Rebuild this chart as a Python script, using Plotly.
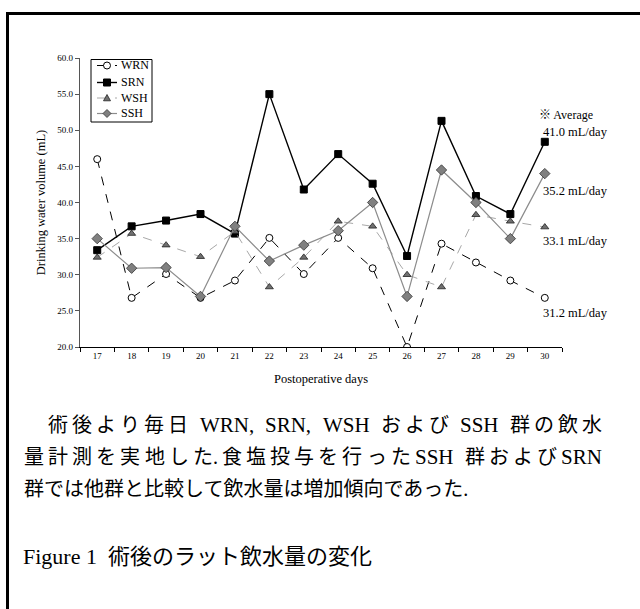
import plotly.graph_objects as go

# Postoperative day and daily drinking water volume (mL) per group
days = [17, 18, 19, 20, 21, 22, 23, 24, 25, 26, 27, 28, 29, 30]
wrn = [46.0, 26.8, 30.1, 26.8, 29.2, 35.1, 30.1, 35.1, 30.9, 20.0, 34.3, 31.7, 29.2, 26.8]
srn = [33.4, 36.7, 37.5, 38.4, 35.7, 55.0, 41.8, 46.7, 42.6, 32.6, 51.3, 40.9, 38.4, 48.4]
wsh = [32.4, 35.7, 34.1, 32.5, 36.0, 28.3, 32.4, 37.4, 36.7, 30.0, 28.3, 38.3, 37.4, 36.6]
ssh = [35.0, 30.9, 31.0, 27.0, 36.7, 31.9, 34.1, 36.1, 40.0, 27.0, 44.5, 40.0, 35.0, 44.0]

group_names = ["WRN", "SRN", "WSH", "SSH"]
avg_labels = ["41.0 mL/day", "35.2 mL/day", "33.1 mL/day", "31.2 mL/day"]
y_ticks = [20, 25, 30, 35, 40, 45, 50, 55, 60]

# Caption text, split into tokens so the first two lines can be justified
caption_line1 = ["術", "後", "よ", "り", "毎", "日", " ", "WRN,", " ", "SRN,", " ", "WSH", " ",
                 "お", "よ", "び", " ", "SSH", " ", "群", "の", "飲", "水"]
caption_line2 = ["量", "計", "測", "を", "実", "地", "し", "た.", "食", "塩", "投", "与", "を",
                 "行", "っ", "た", "SSH", " ", "群", "お", "よ", "び", "SRN"]
caption_line3 = "群では他群と比較して飲水量は増加傾向であった."
figure_title = "Figure 1  術後のラット飲水量の変化"

W, H = 640, 609
L, R, T, B = 80, 562, 58, 347  # plot area in pixels

SERIF = "Liberation Serif"
JP = "Liberation Serif, Noto Sans CJK JP"
BODY = 20        # CJK caption size
BODY_LATIN = 21  # Latin words inside the caption

# Approximate Times/Liberation Serif advance widths (em)
LATIN_W = {"W": 0.944, "R": 0.667, "N": 0.722, "S": 0.556, "H": 0.722,
           ",": 0.25, ".": 0.25, " ": 0.25}


def is_latin(tok):
    return all(ord(ch) < 0x2000 for ch in tok)


def tok_size(tok):
    return BODY_LATIN if is_latin(tok) else BODY


def text_width(s):
    size = tok_size(s)
    w = 0.0
    for ch in s:
        w += LATIN_W.get(ch, 1.0 if ord(ch) > 0x2000 else 0.5)
    return w * size


def px_x(p):
    return (p - L) / (R - L)


def px_y(p):
    return 1 - (p - T) / (B - T)


styles = {
    "WRN": dict(line=dict(color="black", width=1, dash="dash"),
                marker=dict(symbol="circle", size=7, color="white", line=dict(color="black", width=1))),
    "SRN": dict(line=dict(color="black", width=1.4),
                marker=dict(symbol="square", size=7, color="black", line=dict(color="black", width=1))),
    "WSH": dict(line=dict(color="#a8a8a8", width=1, dash="dash"),
                marker=dict(symbol="triangle-up", size=7, color="#707070", line=dict(color="#222222", width=0.8))),
    "SSH": dict(line=dict(color="#8c8c8c", width=1.2),
                marker=dict(symbol="diamond", size=8, color="#808080", line=dict(color="#333333", width=0.8))),
}

x = [str(d) for d in days]
fig = go.Figure()
for name, values in zip(group_names, [wrn, srn, wsh, ssh]):
    fig.add_trace(go.Scatter(x=x, y=values, name=name, mode="lines+markers",
                             showlegend=False, **styles[name]))

fig.update_layout(
    width=W, height=H,
    margin=dict(l=L, r=W - R, t=T, b=H - B),
    paper_bgcolor="white", plot_bgcolor="white",
    font=dict(family=SERIF, color="black"),
)

fig.update_xaxes(
    type="category", tickson="boundaries",
    ticks="outside", ticklen=4, tickcolor="black",
    showline=True, linecolor="black", linewidth=1.2,
    showgrid=False, zeroline=False,
    tickfont=dict(family=SERIF, size=9, color="black"),
    title=dict(text="Postoperative days", font=dict(family=SERIF, size=12.5, color="black"), standoff=14),
    range=[-0.5, len(days) - 0.5],
)
fig.update_yaxes(
    range=[20, 60], tickvals=y_ticks, ticktext=[f"{v:.1f}" for v in y_ticks],
    ticks="outside", ticklen=4, tickcolor="#555555",
    showline=True, linecolor="#555555", linewidth=1.2,
    showgrid=False, zeroline=False,
    tickfont=dict(family=SERIF, size=9, color="black"),
    title=dict(text="Drinking water volume (mL)", font=dict(family=SERIF, size=12.5, color="black"), standoff=8),
)

# Boxed legend in the upper-left corner of the plot
shapes = []
shapes.append(dict(type="rect", xref="paper", yref="paper",
                   x0=px_x(91), x1=px_x(152), y0=px_y(59.5), y1=px_y(122),
                   line=dict(color="black", width=1), fillcolor="white", layer="above"))
legend_rows = [65.5, 82.5, 98, 113.5]
sx0, sx1, mx = 97, 117, 107
for name, py in zip(group_names, legend_rows):
    st = styles[name]
    shapes.append(dict(type="line", xref="paper", yref="paper", layer="above",
                       x0=px_x(sx0), x1=px_x(sx1), y0=px_y(py), y1=px_y(py),
                       line=dict(color=st["line"]["color"], width=st["line"]["width"],
                                 dash="dash" if st["line"].get("dash") else "solid")))
    mk = st["marker"]
    r = mk["size"] / 2
    common = dict(xref="paper", yref="paper", layer="above", fillcolor=mk["color"],
                  line=dict(color=mk["line"]["color"], width=mk["line"]["width"]))
    if mk["symbol"] == "circle":
        shapes.append(dict(type="circle", x0=px_x(mx - r), x1=px_x(mx + r),
                           y0=px_y(py - r), y1=px_y(py + r), **common))
    elif mk["symbol"] == "square":
        shapes.append(dict(type="rect", x0=px_x(mx - r), x1=px_x(mx + r),
                           y0=px_y(py - r), y1=px_y(py + r), **common))
    else:
        if mk["symbol"] == "triangle-up":
            pts = [(mx, py - r), (mx + r, py + r * 0.8), (mx - r, py + r * 0.8)]
        else:
            pts = [(mx, py - r), (mx + r, py), (mx, py + r), (mx - r, py)]
        path = "M " + " L ".join(f"{px_x(a):.5f},{px_y(b):.5f}" for a, b in pts) + " Z"
        shapes.append(dict(type="path", path=path, **common))
    fig.add_annotation(text=name, x=px_x(119), y=px_y(py), xref="paper", yref="paper",
                       xanchor="left", yanchor="middle", showarrow=False,
                       font=dict(family=SERIF, size=12, color="black"))

# Average labels to the right of the last day
fig.add_annotation(text="※ Average", x=px_x(537), y=px_y(115), xref="paper", yref="paper",
                   xanchor="left", yanchor="middle", showarrow=False,
                   font=dict(family=JP, size=12, color="black"))
for lbl, py in zip(avg_labels, [131.5, 191, 241, 313]):
    fig.add_annotation(text=lbl, x=px_x(541), y=px_y(py), xref="paper", yref="paper",
                       xanchor="left", yanchor="middle", showarrow=False,
                       font=dict(family=SERIF, size=12.5, color="black"))


def add_justified(tokens, x0, x1, py, space_weight=1.5):
    """Spread tokens across [x0, x1] px; word spaces take a larger share of the slack."""
    natural = sum(text_width(t) for t in tokens if t != " ") + \
        sum(0.25 * BODY_LATIN for t in tokens if t == " ")
    weights = []
    prev_space = False
    for i, t in enumerate(tokens):
        if t == " ":
            prev_space = True
            continue
        if i > 0:
            weights.append(space_weight if prev_space else 1.0)
        prev_space = False
    unit = (x1 - x0 - natural) / sum(weights)
    pos = x0
    k = 0
    for i, t in enumerate(tokens):
        if t == " ":
            pos += 0.25 * BODY_LATIN
            continue
        if i > 0:
            pos += unit * weights[k]
            k += 1
        fig.add_annotation(text=t, x=px_x(pos), y=px_y(py), xref="paper", yref="paper",
                           xanchor="left", yanchor="middle", showarrow=False,
                           font=dict(family=JP, size=tok_size(t), color="black"))
        pos += text_width(t)


add_justified(caption_line1, 46, 600, 425)
add_justified(caption_line2, 22, 600, 457)
fig.add_annotation(text=caption_line3, x=px_x(22), y=px_y(489), xref="paper", yref="paper",
                   xanchor="left", yanchor="middle", showarrow=False,
                   font=dict(family=JP, size=BODY, color="black"))
fig.add_annotation(text=figure_title, x=px_x(21), y=px_y(556), xref="paper", yref="paper",
                   xanchor="left", yanchor="middle", showarrow=False,
                   font=dict(family=JP, size=22, color="black"))

# Frame lines on the top and left edges
shapes.append(dict(type="line", xref="paper", yref="paper",
                   x0=px_x(6), x1=px_x(640), y0=px_y(13.5), y1=px_y(13.5),
                   line=dict(color="black", width=3)))
shapes.append(dict(type="line", xref="paper", yref="paper",
                   x0=px_x(7.5), x1=px_x(7.5), y0=px_y(12), y1=px_y(609),
                   line=dict(color="black", width=3)))
fig.update_layout(shapes=shapes)

fig.write_html("out.html")
